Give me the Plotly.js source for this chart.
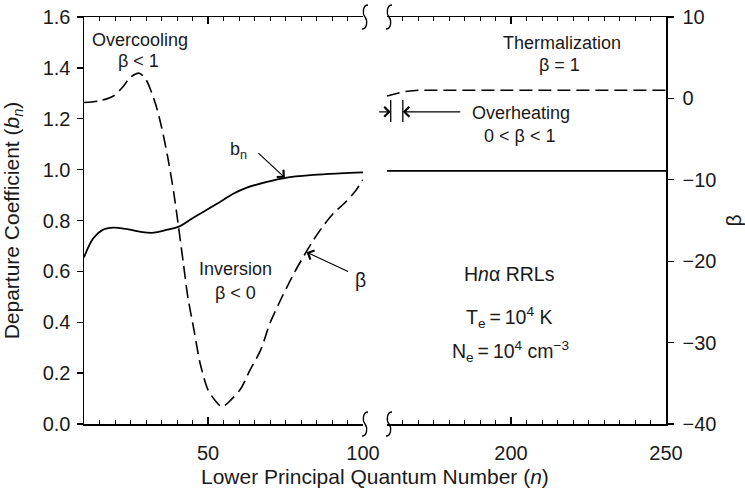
<!DOCTYPE html>
<html>
<head>
<meta charset="utf-8">
<script src="https://cdn.plot.ly/plotly-3.0.1.min.js"></script>
<style>html,body{margin:0;padding:0;background:#fff;}#chart{width:745px;height:492px;}</style>
</head>
<body>
<div id="chart"></div>
<script>
// ---- data ----
const nBnLeft  = [10, 13, 16, 19.5, 23.5, 28, 32.5, 36.5, 41, 45, 49.5, 54, 58, 62.5, 69, 75, 84, 92.5, 100];
const bnLeft   = [0.655, 0.73, 0.763, 0.772, 0.767, 0.756, 0.752, 0.763, 0.778, 0.809, 0.841, 0.874, 0.904, 0.929, 0.952, 0.968, 0.979, 0.985, 0.989];
const nBnRight = [160, 250];
const bnRight  = [0.995, 0.995];

const nBetaLeft  = [10, 15, 19.5, 22.5, 25, 27.8, 30, 33, 35, 37, 39, 40.5, 42, 43.5, 45.5, 47.5, 50, 52.5, 54.5, 57.5, 60.5, 63.5, 67, 70, 74, 78, 81, 84, 87.5, 90.5, 94.5, 97.5, 100];
const betaLeft   = [-0.5, -0.3, 0.3, 1.4, 2.6, 3.1, 2.3, -0.6, -3.5, -7.2, -11.7, -15.8, -20.1, -24.4, -28.5, -32.6, -35.8, -37.2, -37.9, -37.0, -35.7, -33.4, -30.9, -27.6, -24.3, -21.3, -19.3, -17.4, -15.5, -14.1, -12.7, -11.4, -10.0];
const nBetaRight = [160, 165, 170, 250];
const betaRight  = [0.3, 0.8, 1.0, 1.0];

const leftTicks  = [50, 100];
const rightTicks = [200, 250];
const bnTicks    = [0, 0.2, 0.4, 0.6, 0.8, 1.0, 1.2, 1.4, 1.6];
const betaTicks  = [-40, -30, -20, -10, 0, 10];

// ---- styling ----
const FONT = 'Liberation Sans, Arial, Helvetica, sans-serif';
const INK = '#1a1a1a';
const W = 745, H = 492, L = 84, R = 79, T = 17, B = 68;
const PW = W - L - R, PH = H - T - B;
const px = v => (v - L) / PW;          // pixel -> paper x
const py = v => (T + PH - v) / PH;     // pixel -> paper y

const solid  = {color: '#000', width: 1.8};
const dashed = {color: '#000', width: 1.6, dash: '13px,6px'};

const traces = [
  {x: nBnLeft, y: bnLeft, xaxis: 'x', yaxis: 'y', mode: 'lines', line: Object.assign({shape: 'spline'}, solid)},
  {x: nBnRight, y: bnRight, xaxis: 'x2', yaxis: 'y', mode: 'lines', line: solid},
  {x: nBetaLeft, y: betaLeft, xaxis: 'x', yaxis: 'y2', mode: 'lines', line: Object.assign({shape: 'spline', smoothing: 0.8}, dashed)},
  {x: nBetaRight, y: betaRight, xaxis: 'x2', yaxis: 'y2', mode: 'lines', line: dashed}
];

const TICKF = {family: FONT, size: 20, color: INK};
const TITLEF = {family: FONT, size: 21, color: INK};

const xCommon = {
  showline: true, linecolor: '#000', linewidth: 1.5, mirror: 'ticks',
  ticks: 'inside', ticklen: 7, tickwidth: 1.3, tickcolor: '#000',
  minor: {dtick: 5, tick0: 0, ticks: 'inside', ticklen: 4, tickwidth: 1, tickcolor: '#000'},
  showgrid: false, zeroline: false, tickmode: 'array',
  tickfont: TICKF, ticklabelstandoff: 10
};

const layout = {
  width: W, height: H, margin: {l: L, r: R, t: T, b: B},
  paper_bgcolor: '#fff', plot_bgcolor: '#fff', showlegend: false,
  font: {family: FONT, color: INK},
  xaxis: Object.assign({}, xCommon, {domain: [0, px(363)], range: [10, 100], tickvals: leftTicks, anchor: 'y'}),
  xaxis2: Object.assign({}, xCommon, {domain: [px(387), 1], range: [160, 250], tickvals: rightTicks, anchor: 'y'}),
  yaxis: {
    range: [0, 1.6], tickmode: 'array', tickvals: bnTicks, tickformat: '.1f',
    showline: true, linecolor: '#000', linewidth: 1.5, ticks: 'outside', ticklen: 6, tickwidth: 1.3, tickcolor: '#000',
    showgrid: false, zeroline: false, anchor: 'x', ticklabelstandoff: 2,
    tickfont: TICKF,
    title: {text: 'Departure Coefficient (<i>b<sub>n</sub></i>)', font: TITLEF, standoff: 18}
  },
  yaxis2: {
    range: [-40, 10], tickmode: 'array', tickvals: betaTicks, overlaying: 'y', side: 'right', anchor: 'x2',
    showline: true, linecolor: '#000', linewidth: 1.5, ticks: 'outside', ticklen: 6, tickwidth: 1.3, tickcolor: '#000',
    showgrid: false, zeroline: false, ticklabelstandoff: 5,
    tickfont: TICKF,
    title: {text: 'β', font: TITLEF, standoff: 12}
  },
  shapes: [],
  annotations: []
};

// axis-break marks
function breakMark(cx, cy) {
  const p = (dx, dy) => px(cx + dx).toFixed(4) + ',' + py(cy + dy).toFixed(4);
  return {type: 'path', xref: 'paper', yref: 'paper', line: {color: '#000', width: 1.3},
    path: 'M' + p(3, -12) + ' C' + p(-2, -12) + ' ' + p(-3, -4) + ' ' + p(0, 0) +
          ' C' + p(3, 4) + ' ' + p(2, 12) + ' ' + p(-3, 12)};
}
[365, 389].forEach(cx => { layout.shapes.push(breakMark(cx, 17)); layout.shapes.push(breakMark(cx, 424)); });

// overheating bracket bars
layout.shapes.push({type: 'line', xref: 'x2', yref: 'y2', x0: 161.2, x1: 161.2, y0: -0.2, y1: -2.9, line: {color: '#000', width: 1.3}});
layout.shapes.push({type: 'line', xref: 'x2', yref: 'y2', x0: 165.1, x1: 165.1, y0: -0.2, y1: -2.9, line: {color: '#000', width: 1.3}});

const AF = {family: FONT, size: 18, color: INK};
const AF2 = {family: FONT, size: 19.5, color: INK};
function txt(text, x, y, f) {
  return {text: text, xref: 'paper', yref: 'paper', x: px(x), y: py(y), xanchor: 'center', yanchor: 'middle', showarrow: false, font: f || AF};
}
layout.annotations.push(
  txt('Overcooling', 140, 40),
  txt('β < 1', 138, 61),
  txt('b<sub>n</sub>', 238, 151),
  txt('Inversion', 235, 269),
  txt('β < 0', 235, 293),
  txt('β', 360, 280, AF2),
  txt('Thermalization', 562, 43),
  txt('β = 1', 559, 65),
  txt('Overheating', 521, 113),
  txt('0 < β < 1', 519, 136),
  txt('H<i>n</i>α RRLs', 509, 274, AF2),
  txt('T<sub>e</sub>\u2009=\u200910<sup>4</sup> K', 509, 317, AF2),
  txt('N<sub>e</sub>\u2009=\u200910<sup>4</sup> cm<sup>−3</sup>', 510, 351, AF2),
  {text: 'Lower Principal Quantum Number (<i>n</i>)', xref: 'paper', yref: 'paper', x: px(375), y: py(476),
   xanchor: 'center', yanchor: 'middle', showarrow: false, font: TITLEF}
);

// arrows
const arr = {text: '', showarrow: true, arrowhead: 4, arrowsize: 1.6, arrowwidth: 1.2, arrowcolor: '#000', standoff: 0, startstandoff: 0};
layout.annotations.push(
  Object.assign({}, arr, {xref: 'x', yref: 'y', x: 74.8, y: 0.968, ax: -28, ay: -26}),
  Object.assign({}, arr, {xref: 'x', yref: 'y2', x: 81.8, y: -18.9, ax: 43, ay: 20}),
  Object.assign({}, arr, {xref: 'x2', yref: 'y2', x: 165.1, y: -1.65, ax: 59, ay: 0}),
  Object.assign({}, arr, {xref: 'x2', yref: 'y2', x: 161.2, y: -1.65, ax: -13, ay: 0})
);

Plotly.newPlot('chart', traces, layout, {displayModeBar: false, staticPlot: true});
</script>
</body>
</html>
